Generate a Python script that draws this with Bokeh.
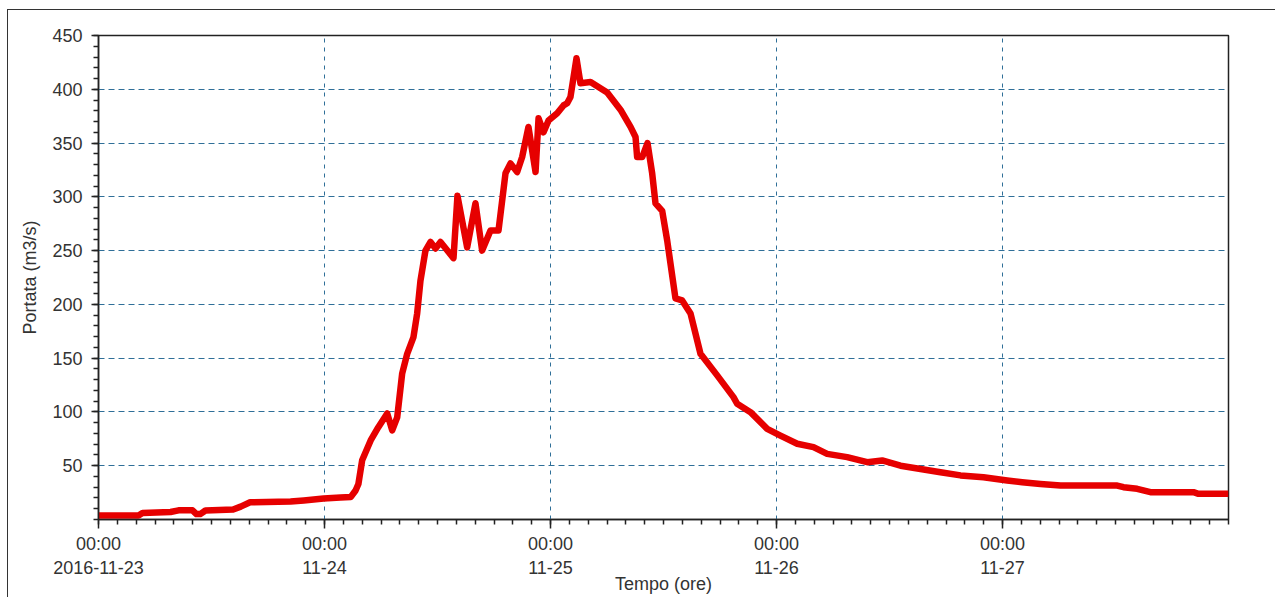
from bokeh.plotting import figure
from bokeh.models import FixedTicker, Range1d, ColumnDataSource
from bokeh.embed import file_html
from bokeh.resources import INLINE

# Hours since 2016-11-23 00:00 and discharge (m3/s)
hours = [0.0, 4.25, 4.67, 7.65, 8.5, 9.98, 10.4, 10.8, 11.36, 14.3, 15.1, 16.1,
         20.4, 21.8, 23.9, 25.7, 26.8, 27.3, 27.6, 28.0, 28.9, 29.7, 30.66, 31.19,
         31.72, 32.25, 32.78, 33.45, 33.84, 34.19, 34.72, 35.26, 35.79, 36.32, 37.7,
         38.12, 39.15, 40.03, 40.74, 41.63, 42.48, 43.22, 43.75, 44.46, 44.99, 45.66,
         46.41, 46.73, 47.26, 47.79, 48.71, 49.38, 49.77, 50.12, 50.76, 51.18, 52.25,
         54.02, 55.43, 56.5, 57.03, 57.2, 57.74, 58.3, 58.8, 59.15, 59.86, 60.39,
         61.27, 61.98, 62.87, 63.93, 65.7, 67.43, 67.82, 69.24, 71.01, 72.42, 74.2,
         75.93, 77.38, 79.5, 81.63, 83.22, 85.17, 87.29, 89.41, 91.54, 93.98, 96.5,
         98.09, 100.03, 102.16, 108.18, 108.85, 110.3, 111.71, 116.28, 116.81, 120.0]
flow = [3.7, 3.7, 6, 7, 8.5, 8.5, 5, 5, 8.4, 9.3, 12, 16,
        16.7, 17.7, 19.5, 20.5, 21, 27, 33, 55, 73.5, 85.6, 98.6, 82.8,
        95, 135.8, 154, 169.6, 191.6, 222, 250, 258, 252, 258, 243,
        301, 253, 294, 250, 268.8, 268.8, 321.9, 331, 323, 337, 365,
        323, 373, 360, 371, 377.7, 385, 387, 392.8, 428.8, 405.6, 406.8,
        397, 381, 365, 355.6, 337, 337, 350, 321.6, 294, 287, 259.5,
        205.6, 203.7, 191.6, 154, 134, 113.8, 107.6, 99.8, 84.3, 78, 70.4,
        67.3, 61, 58, 53.3, 54.9, 50, 47, 44, 41, 39.3, 36.3,
        34.7, 33.1, 31.6, 31.6, 30, 28.5, 25.4, 25.4, 23.9, 23.9]

x_ticks = [0, 24, 48, 72, 96]
x_tick_labels = ["00:00\n2016-11-23", "00:00\n11-24", "00:00\n11-25",
                 "00:00\n11-26", "00:00\n11-27"]
y_ticks = [50, 100, 150, 200, 250, 300, 350, 400, 450]

FONT = "Liberation Sans"
GRID = "#2f6f98"
INK = "#222222"

p = figure(width=1268, height=588, output_backend="svg", toolbar_location=None,
           x_range=Range1d(0, 120), y_range=Range1d(0, 450),
           min_border_left=90, min_border_right=48, min_border_top=25,
           min_border_bottom=79,
           x_axis_label="Tempo (ore)", y_axis_label="Portata (m3/s)",
           styles={"margin-left": "7px", "margin-top": "9px",
                   "border-left": "1px solid #333333",
                   "border-top": "1px solid #333333"})

p.background_fill_color = "white"
p.border_fill_color = "white"
p.outline_line_color = INK
p.outline_line_width = 1.5

src = ColumnDataSource(dict(h=hours, q=flow))
p.line("h", "q", source=src, line_width=6.5, line_color="#e60000", line_join="round")

xa = p.xaxis[0]
xa.ticker = FixedTicker(ticks=x_ticks, minor_ticks=list(range(0, 121, 2)))
xa.major_label_overrides = {t: l for t, l in zip(x_ticks, x_tick_labels)}
xa.major_tick_out = 9
xa.major_tick_in = 0
xa.minor_tick_out = 5
xa.minor_tick_in = 0
xa.major_label_standoff = 5
xa.axis_label_standoff = -7

ya = p.yaxis[0]
ya.ticker = FixedTicker(ticks=y_ticks, minor_ticks=list(range(0, 451, 10)))
ya.major_tick_out = 7
ya.major_tick_in = 0
ya.minor_tick_out = 5
ya.minor_tick_in = 0
ya.major_label_standoff = 9
ya.axis_label_standoff = 9

for ax in (xa, ya):
    ax.axis_line_color = INK
    ax.axis_line_width = 1.5
    ax.major_tick_line_color = INK
    ax.major_tick_line_width = 1.5
    ax.minor_tick_line_color = INK
    ax.minor_tick_line_width = 1.5
    ax.major_label_text_font = FONT
    ax.major_label_text_font_size = "18px"
    ax.major_label_text_color = "#333333"
    ax.axis_label_text_font = FONT
    ax.axis_label_text_font_size = "18px"
    ax.axis_label_text_font_style = "normal"
    ax.axis_label_text_color = "#333333"

p.xgrid.grid_line_color = GRID
p.xgrid.grid_line_dash = "4 5"
p.xgrid.grid_line_width = 1
p.ygrid.grid_line_color = GRID
p.ygrid.grid_line_dash = "6 4"
p.ygrid.grid_line_width = 1

open("out.html", "w").write(file_html(p, INLINE))
